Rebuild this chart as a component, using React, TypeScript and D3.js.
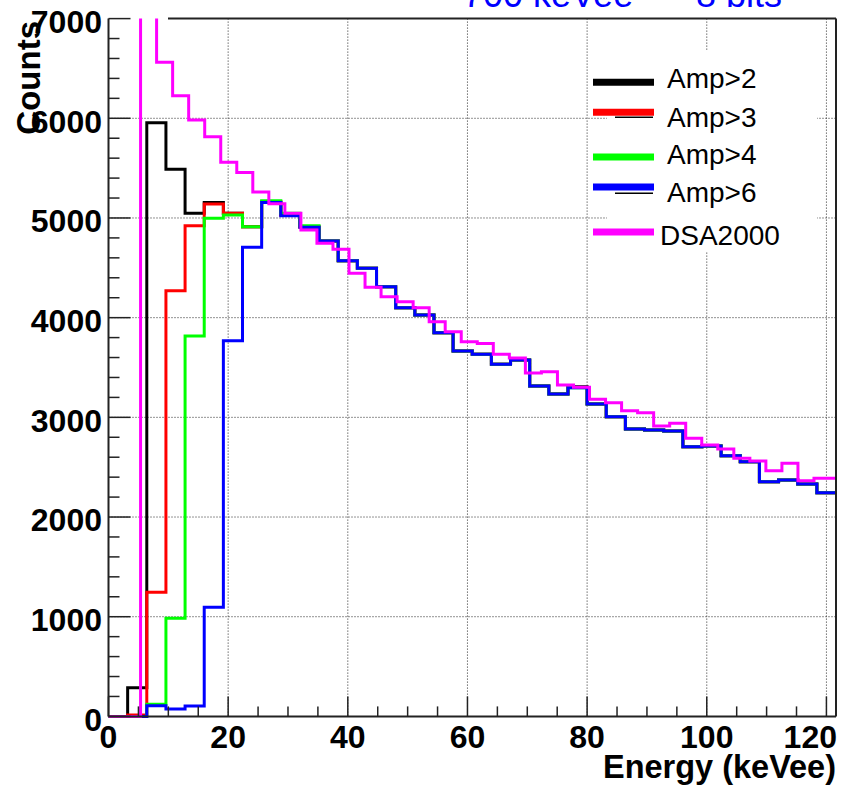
import React from "react";
import * as d3 from "d3";

// ---------- data ----------
const AMP_BIN_WIDTH = 3.2; // keVee
const DSA_BIN_WIDTH = 2.68; // keVee
const X_MAX = 121.6;
const Y_MAX = 7000;

const ampGt2 = [0, 288, 5955, 5488, 5047, 5154, 5047, 4912, 5160, 5030, 4910, 4769, 4571, 4495, 4310, 4100, 4026, 3849, 3665, 3633, 3532, 3575, 3315, 3234, 3307, 3134, 3006, 2883, 2873, 2863, 2705, 2712, 2615, 2555, 2354, 2371, 2331, 2244];
const ampGt3 = [0, 15, 1245, 4270, 4922, 5140, 5047, 4912, 5160, 5030, 4910, 4769, 4571, 4495, 4310, 4100, 4026, 3849, 3665, 3633, 3532, 3575, 3315, 3234, 3300, 3134, 3006, 2883, 2873, 2863, 2705, 2712, 2615, 2555, 2354, 2371, 2331, 2244];
const ampGt4 = [0, 0, 121, 984, 3816, 4997, 5030, 4912, 5173, 5047, 4922, 4769, 4571, 4495, 4310, 4100, 4026, 3849, 3665, 3633, 3532, 3575, 3315, 3234, 3297, 3134, 3006, 2883, 2873, 2863, 2705, 2712, 2615, 2555, 2354, 2371, 2331, 2244];
const ampGt6 = [0, 0, 107, 74, 104, 1094, 3769, 4706, 5155, 5023, 4906, 4769, 4571, 4495, 4310, 4100, 4026, 3849, 3665, 3633, 3532, 3575, 3315, 3234, 3297, 3134, 3006, 2883, 2873, 2863, 2705, 2712, 2615, 2555, 2354, 2371, 2331, 2244];
const dsa2000 = [0, 0, 9000, 6561, 6226, 5983, 5815, 5558, 5456, 5260, 5143, 5047, 4879, 4746, 4686, 4445, 4304, 4210, 4160, 4100, 3959, 3859, 3759, 3740, 3633, 3595, 3445, 3458, 3324, 3301, 3181, 3147, 3066, 3046, 2913, 2940, 2790, 2722, 2682, 2589, 2562, 2465, 2539, 2364, 2388, 2388];

const seriesNames = ["Amp>2", "Amp>3", "Amp>4", "Amp>6", "DSA2000"];
const seriesColors = ["#000000", "#ff0000", "#00ff00", "#0000ff", "#ff00ff"];

const xTickValues = [0, 20, 40, 60, 80, 100, 120];
const yTickValues = [0, 1000, 2000, 3000, 4000, 5000, 6000, 7000];
const titleParts = ["700 keVee", "8 bits"];
const xTitle = "Energy (keVee)";
const yTitle = "Counts";

// ---------- layout ----------
const W = 857;
const H = 792;
const L = 108.5;
const R = 836;
const T = 18.6;
const B = 716.4;

const FONT = "'Liberation Sans', Arial, Helvetica, sans-serif";

export default function App() {
  const x = d3.scaleLinear().domain([0, X_MAX]).range([L, R]);
  const y = d3.scaleLinear().domain([0, Y_MAX]).range([B, T]);

  const series = [
    { name: seriesNames[0], color: seriesColors[0], w: AMP_BIN_WIDTH, values: ampGt2 },
    { name: seriesNames[1], color: seriesColors[1], w: AMP_BIN_WIDTH, values: ampGt3 },
    { name: seriesNames[2], color: seriesColors[2], w: AMP_BIN_WIDTH, values: ampGt4 },
    { name: seriesNames[3], color: seriesColors[3], w: AMP_BIN_WIDTH, values: ampGt6 },
    { name: seriesNames[4], color: seriesColors[4], w: DSA_BIN_WIDTH, values: dsa2000 },
  ];

  const line = d3
    .line<[number, number]>()
    .x((d) => x(d[0]))
    .y((d) => y(d[1]));

  const stepPath = (values: number[], w: number) => {
    const pts: [number, number][] = [];
    values.forEach((v, i) => {
      pts.push([i * w, v]);
      pts.push([(i + 1) * w, v]);
    });
    return line(pts) || "";
  };

  const xMinor = d3.range(5, X_MAX, 5).filter((v) => v % 20 !== 0);
  const yMinor = d3.range(200, Y_MAX, 200).filter((v) => v % 1000 !== 0);

  // legend layout (pixel positions)
  const legLineX1 = 593;
  const legLineX2 = 654;
  const legTextX = [667, 667, 667, 667, 660];
  const legBaselines = [88.3, 126.7, 164, 201.7, 245];
  const legLineYs = [82.2, 112.2, 157, 187, 232];

  return (
    <svg
      width={W}
      height={H}
      viewBox={`0 0 ${W} ${H}`}
      style={{ position: "absolute", left: 0, top: 0, background: "#fff" }}
    >
      <defs>
        <clipPath id="plotClip">
          <rect x={L} y={T} width={R - L} height={B - T + 2} />
        </clipPath>
      </defs>
      <rect x={0} y={0} width={W} height={H} fill="#fff" />

      {/* grid */}
      <g stroke="#000" strokeWidth={1} strokeDasharray="1 2" opacity={0.85}>
        {xTickValues
          .filter((v) => v > 0)
          .map((v) => (
            <line key={"gx" + v} x1={x(v)} x2={x(v)} y1={T} y2={B} />
          ))}
        {yTickValues
          .filter((v) => v > 0 && v < Y_MAX)
          .map((v) => (
            <line key={"gy" + v} x1={L} x2={R} y1={y(v)} y2={y(v)} />
          ))}
      </g>

      {/* histograms */}
      <g clipPath="url(#plotClip)" fill="none" strokeWidth={3} strokeLinejoin="miter">
        {series.map((s) => (
          <path key={s.name} d={stepPath(s.values, s.w)} stroke={s.color} />
        ))}
      </g>

      {/* legend */}
      <rect x={607} y={50} width={210} height={202} fill="#fff" />
      {series.map((s, i) => (
        <g key={"leg" + s.name}>
          <line
            x1={legLineX1}
            x2={legLineX2}
            y1={legLineYs[i]}
            y2={legLineYs[i]}
            stroke={s.color}
            strokeWidth={7}
          />
          <text
            x={legTextX[i]}
            y={legBaselines[i]}
            fontFamily={FONT}
            fontSize={28}
            fill="#000"
          >
            {s.name}
          </text>
        </g>
      ))}
      <line x1={615} x2={653} y1={117.3} y2={117.3} stroke="#000" strokeWidth={1.5} />
      <line x1={615} x2={653} y1={193.3} y2={193.3} stroke="#000" strokeWidth={1.5} />

      {/* frame */}
      <g stroke="#222" strokeWidth={2} fill="none">
        <line x1={L} x2={L} y1={T} y2={B} />
        <line x1={L} x2={R} y1={B} y2={B} />
        <line x1={R} x2={R} y1={T} y2={B} />
        <line x1={168} x2={R} y1={T} y2={T} />
      </g>

      {/* ticks */}
      <g stroke="#222" strokeWidth={1.5}>
        {xTickValues.map((v) => (
          <line key={"tx" + v} x1={x(v)} x2={x(v)} y1={B} y2={B - 20} />
        ))}
        {xMinor.map((v) => (
          <line key={"mx" + v} x1={x(v)} x2={x(v)} y1={B} y2={B - 10} />
        ))}
        {yTickValues.map((v) => (
          <line key={"ty" + v} x1={L} x2={L + 22} y1={y(v)} y2={y(v)} />
        ))}
        {yMinor.map((v) => (
          <line key={"my" + v} x1={L} x2={L + 11} y1={y(v)} y2={y(v)} />
        ))}
      </g>

      {/* tick labels */}
      <g fontFamily={FONT} fontWeight="bold" fontSize={32} fill="#000">
        {xTickValues.map((v, i) => {
          const last = i === xTickValues.length - 1;
          return (
            <text
              key={"lx" + v}
              x={last ? R + 1 : x(v)}
              y={748}
              textAnchor={last ? "end" : "middle"}
            >
              {v}
            </text>
          );
        })}
        {yTickValues.map((v) => (
          <text key={"ly" + v} x={102} y={y(v) + 14.4} textAnchor="end">
            {v}
          </text>
        ))}
      </g>

      {/* axis titles */}
      <text
        x={836}
        y={778}
        textAnchor="end"
        fontFamily={FONT}
        fontWeight="bold"
        fontSize={32.5}
      >
        {xTitle}
      </text>
      <text
        transform={`translate(40, 21) rotate(-90)`}
        x={0}
        y={0}
        textAnchor="end"
        fontFamily={FONT}
        fontWeight="bold"
        fontSize={33}
      >
        {yTitle}
      </text>

      {/* title (cut off at top) */}
      <g fontFamily={FONT} fontSize={36} fill="#0000ff">
        <text x={463} y={6.5}>
          {titleParts[0]}
        </text>
        <text x={696} y={6.5}>
          {titleParts[1]}
        </text>
      </g>
    </svg>
  );
}
